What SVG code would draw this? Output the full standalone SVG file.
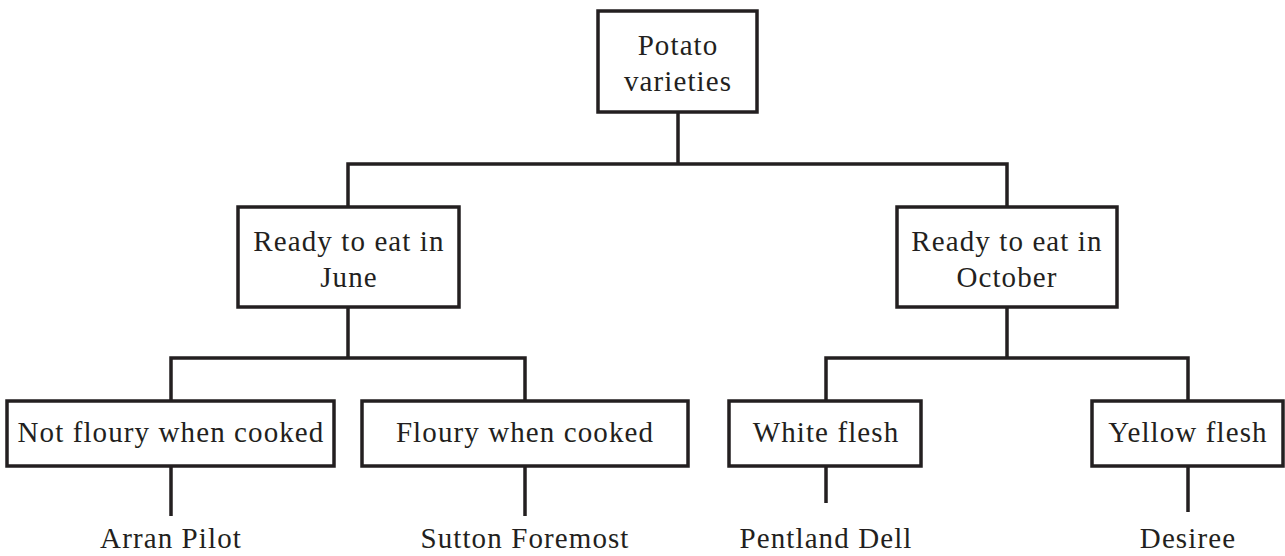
<svg xmlns="http://www.w3.org/2000/svg" width="1285" height="556" viewBox="0 0 1285 556">
<style>
.box{fill:#fff;stroke:#231f20;stroke-width:3.5}
.ln{fill:none;stroke:#231f20;stroke-width:3.5}
.t{font-family:"Liberation Serif",serif;font-size:29px;letter-spacing:1.1px;fill:#231f20;text-anchor:middle}
</style>
<rect width="1285" height="556" fill="#fff"/>
<g id="connectors" class="ln">
<path d="M678,112V164M348,207V164H1007V207"/>
<path d="M348,307V358M171,401V358H525V401"/>
<path d="M1007,307V358M826,401V358H1188V401"/>
<path d="M171,466V516M525,466V516M826,466V503M1188,466V512"/>
</g>
<g id="root"><rect class="box" x="598" y="11" width="159" height="101"/><text class="t" x="678" y="55">Potato</text><text class="t" x="678" y="91">varieties</text></g>
<g id="june"><rect class="box" x="238" y="207" width="221" height="100"/><text class="t" x="349" y="251">Ready to eat in</text><text class="t" x="349" y="287">June</text></g>
<g id="october"><rect class="box" x="897" y="207" width="220" height="100"/><text class="t" x="1007" y="251">Ready to eat in</text><text class="t" x="1007" y="287">October</text></g>
<g id="notfloury"><rect class="box" x="7" y="401" width="327" height="65"/><text class="t" x="171" y="442">Not floury when cooked</text></g>
<g id="floury"><rect class="box" x="362" y="401" width="326" height="65"/><text class="t" x="525" y="442">Floury when cooked</text></g>
<g id="white"><rect class="box" x="729" y="401" width="192" height="65"/><text class="t" x="826" y="442">White flesh</text></g>
<g id="yellow"><rect class="box" x="1092" y="401" width="191" height="65"/><text class="t" x="1188" y="442">Yellow flesh</text></g>
<g id="arran"><text class="t" x="171" y="548">Arran Pilot</text></g>
<g id="sutton"><text class="t" x="525" y="548">Sutton Foremost</text></g>
<g id="pentland"><text class="t" x="826" y="548">Pentland Dell</text></g>
<g id="desiree"><text class="t" x="1188" y="548">Desiree</text></g>
</svg>
